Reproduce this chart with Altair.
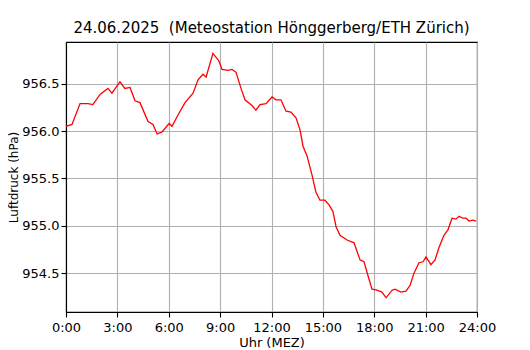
import altair as alt
import pandas as pd

hours = [0.0, 0.35, 0.82, 1.28, 1.57, 2.0, 2.45, 2.68, 3.15, 3.44, 3.74, 4.03, 4.32,
         4.79, 5.08, 5.32, 5.61, 6.02, 6.19, 6.54, 6.95, 7.42, 7.71, 8.0, 8.18,
         8.58, 8.93, 9.11, 9.46, 9.69, 9.93, 10.22, 10.45, 10.86, 11.09, 11.33,
         11.68, 12.03, 12.26, 12.55, 12.85, 13.14, 13.43, 13.67, 13.84, 14.07,
         14.36, 14.6, 14.83, 15.12, 15.36, 15.59, 15.77, 16.0, 16.41, 16.82, 17.17,
         17.4, 17.64, 17.87, 18.16, 18.45, 18.69, 19.04, 19.21, 19.56, 19.85,
         20.09, 20.32, 20.61, 20.85, 21.02, 21.31, 21.55, 21.78, 22.07, 22.31,
         22.54, 22.77, 22.95, 23.18, 23.36, 23.53, 23.77, 23.95]
pressure = [956.05, 956.07, 956.29, 956.29, 956.28, 956.39, 956.45, 956.40, 956.52,
            956.45, 956.46, 956.32, 956.30, 956.10, 956.07, 955.97, 955.99, 956.08,
            956.05, 956.17, 956.30, 956.40, 956.54, 956.60, 956.57, 956.82, 956.74,
            956.65, 956.64, 956.65, 956.62, 956.45, 956.33, 956.27, 956.22, 956.28,
            956.29, 956.36, 956.33, 956.33, 956.21, 956.20, 956.14, 956.01, 955.84,
            955.74, 955.54, 955.35, 955.27, 955.27, 955.22, 955.15, 954.99, 954.90,
            954.85, 954.82, 954.64, 954.62, 954.47, 954.33, 954.32, 954.30, 954.24,
            954.32, 954.33, 954.30, 954.31, 954.37, 954.50, 954.61, 954.62, 954.67,
            954.59, 954.64, 954.77, 954.90, 954.96, 955.08, 955.07, 955.10, 955.08,
            955.08, 955.05, 955.06, 955.05]

x_ticks = [0, 3, 6, 9, 12, 15, 18, 21, 24]
y_ticks = [954.5, 955.0, 955.5, 956.0, 956.5]

df = pd.DataFrame({"h": hours, "p": pressure})

font = "DejaVu Sans"

chart = alt.Chart(df).mark_line(color="#ff0000", strokeWidth=1.3).encode(
    x=alt.X("h:Q",
            scale=alt.Scale(domain=[0, 24], nice=False, zero=False),
            axis=alt.Axis(values=x_ticks, labelExpr="datum.value + ':00'",
                          labelOverlap=False, labelFlush=False, labelPadding=4,
                          title="Uhr (MEZ)", titlePadding=2)),
    y=alt.Y("p:Q",
            scale=alt.Scale(domain=[954.09, 956.94], nice=False, zero=False),
            axis=alt.Axis(values=y_ticks, format=".1f", labelOverlap=False,
                          labelFlush=False, labelPadding=2,
                          title="Luftdruck (hPa)", titleX=-58, titleY=135,
                          titleAlign="center", titleBaseline="top",
                          titleAngle=270, titleFontSize=12)),
).properties(
    width=411, height=270,
    title=alt.Title("24.06.2025\u00a0\u00a0(Meteostation Hönggerberg/ETH Zürich)",
                    font=font, fontSize=15, fontWeight="normal", color="black",
                    offset=6),
    autosize=alt.AutoSizeParams(type="none"),
    padding={"left": 58, "top": 34, "right": 45, "bottom": 38},
).configure_view(
    stroke="black", strokeWidth=1.1
).configure_axis(
    grid=True, gridColor="#b0b0b0", gridWidth=1.1, gridOpacity=1,
    domainColor="black", domainWidth=1.1,
    tickColor="black", tickSize=5, tickWidth=1.1,
    labelFont=font, labelFontSize=13, labelColor="black",
    titleFont=font, titleFontSize=13, titleFontWeight="normal", titleColor="black",
)

chart.save("out.html", embed_options={"renderer": "svg", "actions": False})
